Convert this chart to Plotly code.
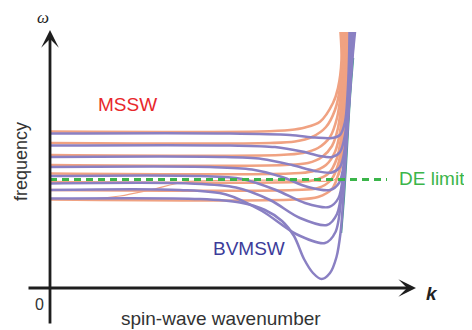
import plotly.graph_objects as go

# Spin-wave dispersion sketch (arbitrary units): k = wavenumber, w = frequency
mssw_k = [
    [0, 210, 240, 255, 270, 283, 288, 291.5, 290.5],
    [0, 220, 245, 262, 276, 285, 290, 292.5, 291.5],
    [0, 230, 253, 268, 280, 287, 291, 293.5, 292.5],
    [0, 235, 258, 272, 282, 288, 292, 294.5, 293.5],
    [0, 240, 262, 276, 285, 290, 293, 295.5, 294.5],
    [0, 245, 265, 279, 287, 291, 294, 296.5, 295.5],
    [0, 245, 268, 281, 288, 292, 295, 297.2, 296.5],
    [0, 245, 268, 282, 289, 293, 295.5, 297.8, 297.5],
]
mssw_w = [
    [156.5, 156.5, 158, 160.5, 166.3, 185, 200, 228, 256],
    [145, 145, 146.5, 151, 161, 178, 200, 228, 256],
    [133, 133, 135, 140, 151, 170, 196, 228, 256],
    [123, 123, 125, 131, 142, 160, 190, 226, 256],
    [114.5, 114.5, 116.5, 123, 136, 156, 186, 223, 256],
    [106, 106, 108, 115, 130, 150, 182, 220, 256],
    [98, 98, 100, 108, 123, 145, 178, 218, 256],
    [88.5, 88.5, 91, 99, 116, 140, 173, 216, 256],
]

bvmsw_k = [
    [0, 180, 240, 265, 282, 290, 295, 297.5, 299, 299.5],
    [0, 180, 225, 252, 270, 282, 290, 295, 298, 299.8, 300.2],
    [0, 170, 212, 242, 265, 282, 290, 295, 298, 300.5, 301],
    [0, 160, 202, 232, 258, 280, 289, 294.5, 298, 301, 301.8],
    [0, 150, 192, 226, 255, 279, 288.5, 293.5, 297.5, 301, 302.6],
    [0, 140, 186, 220, 250, 277, 287, 292.5, 296.5, 300.5, 303.4],
    [0, 130, 176, 212, 246, 275, 285.5, 291.5, 296, 300.5, 304.2],
    [0, 150, 190, 215, 232, 244, 254, 263, 271.5, 280, 286.5, 290.5,
     293.5, 296.5, 299.5, 302.5, 305],
]
bvmsw_w = [
    [154.5, 154.5, 153, 150.5, 150, 153, 166, 193, 228, 256],
    [142.5, 142.5, 141, 136.5, 132, 131, 136, 153, 183, 223, 256],
    [131, 131, 129, 123, 117, 115.5, 121, 140, 176, 223, 256],
    [121, 121, 118.5, 111, 101, 98, 105, 128, 168, 218, 256],
    [112, 112, 109, 98, 85, 81, 90, 116, 163, 213, 256],
    [104.5, 104.5, 100.5, 88, 70, 63, 74, 106, 158, 210, 256],
    [98, 98, 93.5, 77, 54, 45, 56, 92, 148, 208, 256],
    [89.5, 89, 85.5, 78, 67, 52, 29, 15, 9, 15, 31, 55,
     93, 143, 193, 230, 256],
]

de_mode_k = [0, 40, 70, 100, 135, 170, 250, 285, 292, 295, 297, 298]
de_mode_w = [88.5, 89, 92, 98, 106, 107.5, 108, 108.5, 123, 168, 218, 256]

exch_k = [291.5, 294.5, 297.5, 300.5, 303.5]
exch_w = [55, 93, 143, 193, 230]

de_limit_k = [0, 337]
de_limit_w = [108.5, 108.5]

ORANGE = "#F0A282"
PURPLE = "#8A80C3"
GREEN = "#3BB54A"

fig = go.Figure()

fig.add_trace(go.Scatter(x=de_mode_k, y=de_mode_w, mode="lines",
                         line=dict(color=ORANGE, width=1.2, shape="spline"),
                         hoverinfo="skip"))
fig.add_trace(go.Scatter(x=exch_k, y=exch_w, mode="lines",
                         line=dict(color="#3A9A8A", width=1.5, shape="spline"),
                         hoverinfo="skip"))
for kk, ww in zip(mssw_k, mssw_w):
    fig.add_trace(go.Scatter(x=kk, y=ww, mode="lines",
                             line=dict(color=ORANGE, width=2.6, shape="spline", smoothing=0.9),
                             hoverinfo="skip"))
for kk, ww in zip(bvmsw_k, bvmsw_w):
    fig.add_trace(go.Scatter(x=kk, y=ww, mode="lines",
                             line=dict(color=PURPLE, width=2.5, shape="spline", smoothing=0.9),
                             hoverinfo="skip"))
fig.add_trace(go.Scatter(x=de_limit_k, y=de_limit_w, mode="lines",
                         line=dict(color=GREEN, width=2.8, dash="7px,5px"),
                         hoverinfo="skip"))

AX = "#1E1E1E"
FONT = "Liberation Sans, Arial, sans-serif"
annotations = [
    # axes with arrows
    dict(x=366, y=0, ax=-23, ay=0, xref="x", yref="y", axref="x", ayref="y",
         showarrow=True, arrowhead=3, arrowsize=1.05, arrowwidth=2.8,
         arrowcolor=AX, text=""),
    dict(x=0, y=258, ax=0, ay=-37, xref="x", yref="y", axref="x", ayref="y",
         showarrow=True, arrowhead=3, arrowsize=1.05, arrowwidth=2.8,
         arrowcolor=AX, text=""),
    dict(x=-7, y=271, text="<i>ω</i>", showarrow=False,
         font=dict(family="Liberation Serif, serif", size=17, color="#222")),
    dict(x=382, y=-5, text="<b><i>k</i></b>", showarrow=False,
         font=dict(family=FONT, size=19, color="#222")),
    dict(x=-11, y=-16, text="0", showarrow=False,
         font=dict(family=FONT, size=16, color="#333")),
    dict(x=171, y=-30, text="spin-wave wavenumber", showarrow=False,
         font=dict(family=FONT, size=19, color="#333")),
    dict(x=-29, y=126, text="frequency", showarrow=False, textangle=-90,
         font=dict(family=FONT, size=18, color="#333")),
    dict(x=77, y=184, text="MSSW", showarrow=False,
         font=dict(family=FONT, size=19, color="#E8282B")),
    dict(x=199, y=40, text="BVMSW", showarrow=False,
         font=dict(family=FONT, size=19, color="#3D3C9A")),
    dict(x=347, y=110, text="DE limit", showarrow=False, xanchor="left",
         font=dict(family=FONT, size=19, color=GREEN)),
]

# page body has an 8px margin: figure is 464x322 so it fits the 472x330 window
fig.update_layout(
    width=464, height=322,
    margin=dict(l=0, r=0, t=0, b=0),
    paper_bgcolor="white", plot_bgcolor="white",
    showlegend=False,
    xaxis=dict(range=[-42, 422], visible=False, fixedrange=True),
    yaxis=dict(range=[-42, 280], visible=False, fixedrange=True),
    annotations=annotations,
)

fig.write_html("out.html")
